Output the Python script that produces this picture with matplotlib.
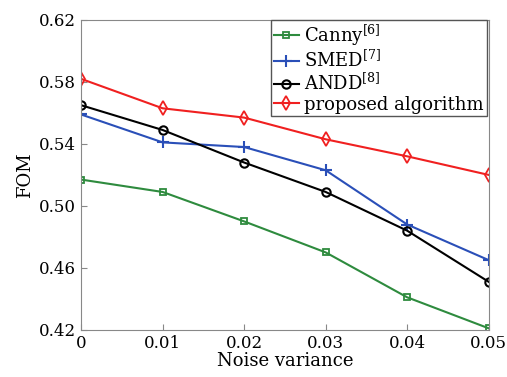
import matplotlib
matplotlib.use("Agg")
import matplotlib.pyplot as plt

plt.rcParams['font.family'] = 'DejaVu Serif'
plt.rcParams['mathtext.fontset'] = 'dejavuserif'

# data
noise = [0, 0.01, 0.02, 0.03, 0.04, 0.05]
canny = [0.517, 0.509, 0.490, 0.470, 0.441, 0.421]
smed = [0.559, 0.541, 0.538, 0.523, 0.488, 0.465]
andd = [0.565, 0.549, 0.528, 0.509, 0.484, 0.451]
proposed = [0.582, 0.563, 0.557, 0.543, 0.532, 0.520]
yticks = [0.42, 0.46, 0.50, 0.54, 0.58, 0.62]
xticks = [0, 0.01, 0.02, 0.03, 0.04, 0.05]

fig = plt.figure(figsize=(5.07, 3.77), dpi=100)
ax = fig.add_axes([0.16, 0.125, 0.804, 0.822])

ax.plot(noise, canny, color="#2e8b3e", marker="s", ms=5, mfc="none", mew=1.3, lw=1.5, label="Canny$^{[6]}$")
ax.plot(noise, smed, color="#2a4fb8", marker="+", ms=8, mew=1.5, lw=1.5, label="SMED$^{[7]}$")
ax.plot(noise, andd, color="black", marker="o", ms=6, mfc="none", mew=1.5, lw=1.5, label="ANDD$^{[8]}$")
ax.plot(noise, proposed, color="#f02020", marker="d", ms=7, mfc="none", mew=1.3, lw=1.5, label="proposed algorithm")

ax.set_xlim(0, 0.05)
ax.set_ylim(0.42, 0.62)
ax.set_xticks(xticks)
ax.set_xticklabels(["0", "0.01", "0.02", "0.03", "0.04", "0.05"])
ax.set_yticks(yticks)
ax.set_yticklabels(["%.2f" % v for v in yticks])
ax.tick_params(direction="in", labelsize=12, length=4, color="#888888")
for s in ax.spines.values():
    s.set_color("#888888")
ax.set_xlabel("Noise variance", fontsize=13, labelpad=0)
ax.set_ylabel("FOM", fontsize=13)

leg = ax.legend(loc="upper right", fontsize=13, handlelength=1.4, handletextpad=0.3,
                borderpad=0.15, labelspacing=0.1, fancybox=False, framealpha=1,
                bbox_to_anchor=(0.995, 1.0), borderaxespad=0)
leg.get_frame().set_edgecolor("#555555")

fig.savefig("out.png", dpi=100)
